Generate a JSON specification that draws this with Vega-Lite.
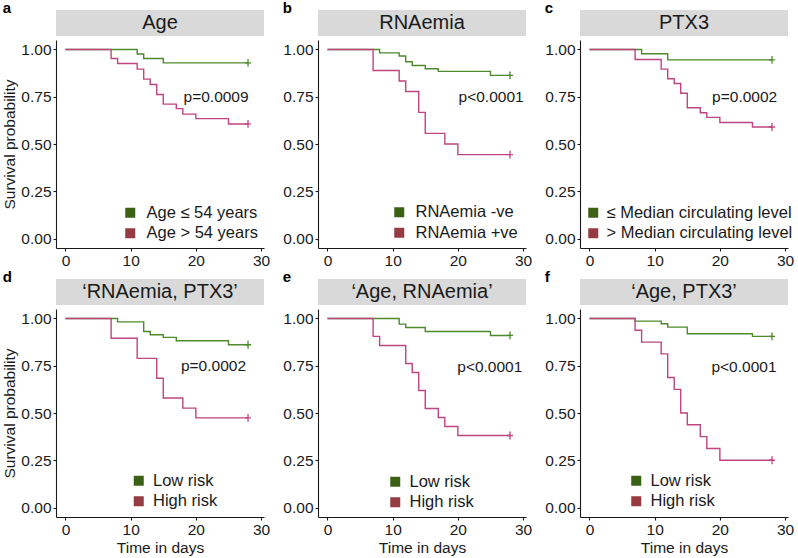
{
  "$schema": "https://vega.github.io/schema/vega-lite/v6.json",
  "padding": {"left": 2, "top": 1, "right": 0, "bottom": 0},
  "background": "white",
  "datasets": {
    "km": [
      {"p":"a","g":"Age ≤ 54 years","t":0,"s":1},{"p":"a","g":"Age ≤ 54 years","t":11,"s":0.976},{"p":"a","g":"Age ≤ 54 years","t":12,"s":0.952},{"p":"a","g":"Age ≤ 54 years","t":15,"s":0.929},{"p":"a","g":"Age ≤ 54 years","t":28,"s":0.929},
      {"p":"a","g":"Age > 54 years","t":0,"s":1},{"p":"a","g":"Age > 54 years","t":7,"s":0.952},{"p":"a","g":"Age > 54 years","t":8,"s":0.926},{"p":"a","g":"Age > 54 years","t":11,"s":0.896},{"p":"a","g":"Age > 54 years","t":12,"s":0.843},{"p":"a","g":"Age > 54 years","t":13,"s":0.815},{"p":"a","g":"Age > 54 years","t":14,"s":0.762},{"p":"a","g":"Age > 54 years","t":15,"s":0.711},{"p":"a","g":"Age > 54 years","t":17,"s":0.687},{"p":"a","g":"Age > 54 years","t":18,"s":0.658},{"p":"a","g":"Age > 54 years","t":20,"s":0.634},{"p":"a","g":"Age > 54 years","t":25,"s":0.606},{"p":"a","g":"Age > 54 years","t":28,"s":0.606},
      {"p":"b","g":"RNAemia -ve","t":0,"s":1},{"p":"b","g":"RNAemia -ve","t":8,"s":0.982},{"p":"b","g":"RNAemia -ve","t":11,"s":0.965},{"p":"b","g":"RNAemia -ve","t":12,"s":0.935},{"p":"b","g":"RNAemia -ve","t":13,"s":0.915},{"p":"b","g":"RNAemia -ve","t":15,"s":0.898},{"p":"b","g":"RNAemia -ve","t":17,"s":0.884},{"p":"b","g":"RNAemia -ve","t":25,"s":0.863},{"p":"b","g":"RNAemia -ve","t":28,"s":0.863},
      {"p":"b","g":"RNAemia +ve","t":0,"s":1},{"p":"b","g":"RNAemia +ve","t":7,"s":0.889},{"p":"b","g":"RNAemia +ve","t":11,"s":0.833},{"p":"b","g":"RNAemia +ve","t":12,"s":0.778},{"p":"b","g":"RNAemia +ve","t":14,"s":0.667},{"p":"b","g":"RNAemia +ve","t":15,"s":0.556},{"p":"b","g":"RNAemia +ve","t":18,"s":0.5},{"p":"b","g":"RNAemia +ve","t":20,"s":0.444},{"p":"b","g":"RNAemia +ve","t":28,"s":0.444},
      {"p":"c","g":"≤ Median circulating level","t":0,"s":1},{"p":"c","g":"≤ Median circulating level","t":8,"s":0.977},{"p":"c","g":"≤ Median circulating level","t":12,"s":0.945},{"p":"c","g":"≤ Median circulating level","t":28,"s":0.945},
      {"p":"c","g":"> Median circulating level","t":0,"s":1},{"p":"c","g":"> Median circulating level","t":7,"s":0.947},{"p":"c","g":"> Median circulating level","t":11,"s":0.896},{"p":"c","g":"> Median circulating level","t":12,"s":0.845},{"p":"c","g":"> Median circulating level","t":13,"s":0.82},{"p":"c","g":"> Median circulating level","t":14,"s":0.768},{"p":"c","g":"> Median circulating level","t":15,"s":0.692},{"p":"c","g":"> Median circulating level","t":17,"s":0.665},{"p":"c","g":"> Median circulating level","t":18,"s":0.641},{"p":"c","g":"> Median circulating level","t":20,"s":0.614},{"p":"c","g":"> Median circulating level","t":25,"s":0.59},{"p":"c","g":"> Median circulating level","t":28,"s":0.59},
      {"p":"d","g":"Low risk","t":0,"s":1},{"p":"d","g":"Low risk","t":8,"s":0.982},{"p":"d","g":"Low risk","t":12,"s":0.931},{"p":"d","g":"Low risk","t":13,"s":0.914},{"p":"d","g":"Low risk","t":15,"s":0.9},{"p":"d","g":"Low risk","t":17,"s":0.882},{"p":"d","g":"Low risk","t":25,"s":0.861},{"p":"d","g":"Low risk","t":28,"s":0.861},
      {"p":"d","g":"High risk","t":0,"s":1},{"p":"d","g":"High risk","t":7,"s":0.895},{"p":"d","g":"High risk","t":11,"s":0.789},{"p":"d","g":"High risk","t":14,"s":0.684},{"p":"d","g":"High risk","t":15,"s":0.579},{"p":"d","g":"High risk","t":18,"s":0.526},{"p":"d","g":"High risk","t":20,"s":0.474},{"p":"d","g":"High risk","t":28,"s":0.474},
      {"p":"e","g":"Low risk","t":0,"s":1},{"p":"e","g":"Low risk","t":11,"s":0.97},{"p":"e","g":"Low risk","t":12,"s":0.952},{"p":"e","g":"Low risk","t":15,"s":0.931},{"p":"e","g":"Low risk","t":25,"s":0.91},{"p":"e","g":"Low risk","t":28,"s":0.91},
      {"p":"e","g":"High risk","t":0,"s":1},{"p":"e","g":"High risk","t":7,"s":0.905},{"p":"e","g":"High risk","t":8,"s":0.857},{"p":"e","g":"High risk","t":12,"s":0.762},{"p":"e","g":"High risk","t":13,"s":0.714},{"p":"e","g":"High risk","t":14,"s":0.619},{"p":"e","g":"High risk","t":15,"s":0.524},{"p":"e","g":"High risk","t":17,"s":0.476},{"p":"e","g":"High risk","t":18,"s":0.429},{"p":"e","g":"High risk","t":20,"s":0.381},{"p":"e","g":"High risk","t":28,"s":0.381},
      {"p":"f","g":"Low risk","t":0,"s":1},{"p":"f","g":"Low risk","t":7,"s":0.986},{"p":"f","g":"Low risk","t":11,"s":0.972},{"p":"f","g":"Low risk","t":12,"s":0.954},{"p":"f","g":"Low risk","t":15,"s":0.919},{"p":"f","g":"Low risk","t":25,"s":0.905},{"p":"f","g":"Low risk","t":28,"s":0.905},
      {"p":"f","g":"High risk","t":0,"s":1},{"p":"f","g":"High risk","t":7,"s":0.9375},{"p":"f","g":"High risk","t":8,"s":0.875},{"p":"f","g":"High risk","t":11,"s":0.8125},{"p":"f","g":"High risk","t":12,"s":0.6875},{"p":"f","g":"High risk","t":13,"s":0.625},{"p":"f","g":"High risk","t":14,"s":0.5},{"p":"f","g":"High risk","t":15,"s":0.4375},{"p":"f","g":"High risk","t":17,"s":0.375},{"p":"f","g":"High risk","t":18,"s":0.3125},{"p":"f","g":"High risk","t":20,"s":0.25},{"p":"f","g":"High risk","t":28,"s":0.25}
    ],
    "cens": [
      {"p":"a","g":"Age ≤ 54 years","t":28,"s":0.929},{"p":"a","g":"Age > 54 years","t":28,"s":0.606},
      {"p":"b","g":"RNAemia -ve","t":28,"s":0.863},{"p":"b","g":"RNAemia +ve","t":28,"s":0.444},
      {"p":"c","g":"≤ Median circulating level","t":28,"s":0.945},{"p":"c","g":"> Median circulating level","t":28,"s":0.59},
      {"p":"d","g":"Low risk","t":28,"s":0.861},{"p":"d","g":"High risk","t":28,"s":0.474},
      {"p":"e","g":"Low risk","t":28,"s":0.91},{"p":"e","g":"High risk","t":28,"s":0.381},
      {"p":"f","g":"Low risk","t":28,"s":0.905},{"p":"f","g":"High risk","t":28,"s":0.25}
    ]
  },
  "columns": 3,
  "align": "each",
  "spacing": {"row": 1, "column": 12},
  "resolve": {"scale": {"color": "independent", "fill": "independent", "x": "independent", "y": "independent"}, "legend": {"color": "independent", "fill": "independent"}},
  "concat": [
    {
      "title": {"text": "a", "anchor": "start", "frame": "bounds", "fontSize": 15, "fontWeight": "bold", "offset": -6, "color": "#000"},
      "spacing": 4,
      "resolve": {"scale": {"color": "independent", "fill": "independent"}, "legend": {"color": "independent", "fill": "independent"}},
      "vconcat": [
        {"width": 208, "height": 26, "view": {"fill": "#d9d9d9", "stroke": null}, "data": {"values": [{"lab": "Age"}]}, "mark": {"type": "text", "fontSize": 20, "color": "#1a1a1a", "baseline": "middle"}, "encoding": {"text": {"field": "lab"}}},
        {"width": 208, "height": 208,
         "layer": [
          {"data": {"name": "km"}, "transform": [{"filter": "datum.p=='a'"}], "mark": {"type": "line", "interpolate": "step-after", "strokeWidth": 1.4},
           "encoding": {
             "x": {"field": "t", "type": "quantitative", "scale": {"domain": [-1.45, 30.45], "nice": false, "zero": false}, "axis": {"title": null, "values": [0, 10, 20, 30]}},
             "y": {"field": "s", "type": "quantitative", "scale": {"domain": [-0.05, 1.05], "nice": false, "zero": false}, "axis": {"title": "Survival probability", "values": [0, 0.25, 0.5, 0.75, 1], "format": ".2f"}},
             "color": {"field": "g", "type": "nominal", "scale": {"domain": ["Age > 54 years", "Age ≤ 54 years"], "range": ["#be4581", "#4e8a2c"]}, "legend": null}}},
          {"data": {"name": "cens"}, "transform": [{"filter": "datum.p=='a'"}], "mark": {"type": "point", "shape": "M-1,0L1,0M0,-1.3L0,1.3", "filled": false, "size": 36, "strokeWidth": 1.3, "opacity": 1},
           "encoding": {"x": {"field": "t", "type": "quantitative"}, "y": {"field": "s", "type": "quantitative"}, "color": {"field": "g", "type": "nominal", "legend": null}}},
          {"data": {"name": "cens"}, "transform": [{"filter": "datum.p=='a'"}], "mark": {"type": "square", "size": 0, "opacity": 1},
           "encoding": {"x": {"field": "t", "type": "quantitative"}, "y": {"field": "s", "type": "quantitative"},
             "fill": {"field": "g", "type": "nominal", "scale": {"domain": ["Age ≤ 54 years", "Age > 54 years"], "range": ["#3d6114", "#963b41"]}, "legend": {"title": null, "orient": "none", "legendX": 66, "legendY": 164.5, "labelOffset": 8}}}},
          {"data": {"values": [{"pv": "p=0.0009"}]}, "mark": {"type": "text", "fontSize": 15.5, "color": "#1a1a1a"}, "encoding": {"x": {"datum": 23.1}, "y": {"datum": 0.75}, "text": {"field": "pv"}}}
         ]}
      ]
    },
    {
      "title": {"text": "b", "anchor": "start", "frame": "bounds", "fontSize": 15, "fontWeight": "bold", "offset": -6, "color": "#000"},
      "spacing": 4,
      "resolve": {"scale": {"color": "independent", "fill": "independent"}, "legend": {"color": "independent", "fill": "independent"}},
      "vconcat": [
        {"width": 208, "height": 26, "view": {"fill": "#d9d9d9", "stroke": null}, "data": {"values": [{"lab": "RNAemia"}]}, "mark": {"type": "text", "fontSize": 20, "color": "#1a1a1a", "baseline": "middle"}, "encoding": {"text": {"field": "lab"}}},
        {"width": 208, "height": 208,
         "layer": [
          {"data": {"name": "km"}, "transform": [{"filter": "datum.p=='b'"}], "mark": {"type": "line", "interpolate": "step-after", "strokeWidth": 1.4},
           "encoding": {
             "x": {"field": "t", "type": "quantitative", "scale": {"domain": [-1.45, 30.45], "nice": false, "zero": false}, "axis": {"title": null, "values": [0, 10, 20, 30]}},
             "y": {"field": "s", "type": "quantitative", "scale": {"domain": [-0.05, 1.05], "nice": false, "zero": false}, "axis": {"title": null, "values": [0, 0.25, 0.5, 0.75, 1], "format": ".2f"}},
             "color": {"field": "g", "type": "nominal", "scale": {"domain": ["RNAemia +ve", "RNAemia -ve"], "range": ["#be4581", "#4e8a2c"]}, "legend": null}}},
          {"data": {"name": "cens"}, "transform": [{"filter": "datum.p=='b'"}], "mark": {"type": "point", "shape": "M-1,0L1,0M0,-1.3L0,1.3", "filled": false, "size": 36, "strokeWidth": 1.3, "opacity": 1},
           "encoding": {"x": {"field": "t", "type": "quantitative"}, "y": {"field": "s", "type": "quantitative"}, "color": {"field": "g", "type": "nominal", "legend": null}}},
          {"data": {"name": "cens"}, "transform": [{"filter": "datum.p=='b'"}], "mark": {"type": "square", "size": 0, "opacity": 1},
           "encoding": {"x": {"field": "t", "type": "quantitative"}, "y": {"field": "s", "type": "quantitative"},
             "fill": {"field": "g", "type": "nominal", "scale": {"domain": ["RNAemia -ve", "RNAemia +ve"], "range": ["#3d6114", "#963b41"]}, "legend": {"title": null, "orient": "none", "legendX": 73, "legendY": 164, "labelOffset": 8}}}},
          {"data": {"values": [{"pv": "p<0.0001"}]}, "mark": {"type": "text", "fontSize": 15.5, "color": "#1a1a1a"}, "encoding": {"x": {"datum": 25.1}, "y": {"datum": 0.75}, "text": {"field": "pv"}}}
         ]}
      ]
    },
    {
      "title": {"text": "c", "anchor": "start", "frame": "bounds", "fontSize": 15, "fontWeight": "bold", "offset": -6, "color": "#000"},
      "spacing": 4,
      "resolve": {"scale": {"color": "independent", "fill": "independent"}, "legend": {"color": "independent", "fill": "independent"}},
      "vconcat": [
        {"width": 208, "height": 26, "view": {"fill": "#d9d9d9", "stroke": null}, "data": {"values": [{"lab": "PTX3"}]}, "mark": {"type": "text", "fontSize": 20, "color": "#1a1a1a", "baseline": "middle"}, "encoding": {"text": {"field": "lab"}}},
        {"width": 208, "height": 208,
         "layer": [
          {"data": {"name": "km"}, "transform": [{"filter": "datum.p=='c'"}], "mark": {"type": "line", "interpolate": "step-after", "strokeWidth": 1.4},
           "encoding": {
             "x": {"field": "t", "type": "quantitative", "scale": {"domain": [-1.45, 30.45], "nice": false, "zero": false}, "axis": {"title": null, "values": [0, 10, 20, 30]}},
             "y": {"field": "s", "type": "quantitative", "scale": {"domain": [-0.05, 1.05], "nice": false, "zero": false}, "axis": {"title": null, "values": [0, 0.25, 0.5, 0.75, 1], "format": ".2f"}},
             "color": {"field": "g", "type": "nominal", "scale": {"domain": ["> Median circulating level", "≤ Median circulating level"], "range": ["#be4581", "#4e8a2c"]}, "legend": null}}},
          {"data": {"name": "cens"}, "transform": [{"filter": "datum.p=='c'"}], "mark": {"type": "point", "shape": "M-1,0L1,0M0,-1.3L0,1.3", "filled": false, "size": 36, "strokeWidth": 1.3, "opacity": 1},
           "encoding": {"x": {"field": "t", "type": "quantitative"}, "y": {"field": "s", "type": "quantitative"}, "color": {"field": "g", "type": "nominal", "legend": null}}},
          {"data": {"name": "cens"}, "transform": [{"filter": "datum.p=='c'"}], "mark": {"type": "square", "size": 0, "opacity": 1},
           "encoding": {"x": {"field": "t", "type": "quantitative"}, "y": {"field": "s", "type": "quantitative"},
             "fill": {"field": "g", "type": "nominal", "scale": {"domain": ["≤ Median circulating level", "> Median circulating level"], "range": ["#3d6114", "#963b41"]}, "legend": {"title": null, "orient": "none", "legendX": 5, "legendY": 164.5, "labelOffset": 5}}}},
          {"data": {"values": [{"pv": "p=0.0002"}]}, "mark": {"type": "text", "fontSize": 15.5, "color": "#1a1a1a"}, "encoding": {"x": {"datum": 23.8}, "y": {"datum": 0.75}, "text": {"field": "pv"}}}
         ]}
      ]
    },
    {
      "title": {"text": "d", "anchor": "start", "frame": "bounds", "fontSize": 15, "fontWeight": "bold", "offset": -6, "color": "#000"},
      "spacing": 4,
      "resolve": {"scale": {"color": "independent", "fill": "independent"}, "legend": {"color": "independent", "fill": "independent"}},
      "vconcat": [
        {"width": 208, "height": 26, "view": {"fill": "#d9d9d9", "stroke": null}, "data": {"values": [{"lab": "‘RNAemia, PTX3’"}]}, "mark": {"type": "text", "fontSize": 20, "color": "#1a1a1a", "baseline": "middle"}, "encoding": {"text": {"field": "lab"}}},
        {"width": 208, "height": 208,
         "layer": [
          {"data": {"name": "km"}, "transform": [{"filter": "datum.p=='d'"}], "mark": {"type": "line", "interpolate": "step-after", "strokeWidth": 1.4},
           "encoding": {
             "x": {"field": "t", "type": "quantitative", "scale": {"domain": [-1.45, 30.45], "nice": false, "zero": false}, "axis": {"title": "Time in days", "values": [0, 10, 20, 30]}},
             "y": {"field": "s", "type": "quantitative", "scale": {"domain": [-0.05, 1.05], "nice": false, "zero": false}, "axis": {"title": "Survival probability", "values": [0, 0.25, 0.5, 0.75, 1], "format": ".2f"}},
             "color": {"field": "g", "type": "nominal", "scale": {"domain": ["High risk", "Low risk"], "range": ["#be4581", "#4e8a2c"]}, "legend": null}}},
          {"data": {"name": "cens"}, "transform": [{"filter": "datum.p=='d'"}], "mark": {"type": "point", "shape": "M-1,0L1,0M0,-1.3L0,1.3", "filled": false, "size": 36, "strokeWidth": 1.3, "opacity": 1},
           "encoding": {"x": {"field": "t", "type": "quantitative"}, "y": {"field": "s", "type": "quantitative"}, "color": {"field": "g", "type": "nominal", "legend": null}}},
          {"data": {"name": "cens"}, "transform": [{"filter": "datum.p=='d'"}], "mark": {"type": "square", "size": 0, "opacity": 1},
           "encoding": {"x": {"field": "t", "type": "quantitative"}, "y": {"field": "s", "type": "quantitative"},
             "fill": {"field": "g", "type": "nominal", "scale": {"domain": ["Low risk", "High risk"], "range": ["#3d6114", "#963b41"]}, "legend": {"title": null, "orient": "none", "legendX": 74.5, "legendY": 163.5, "labelOffset": 6}}}},
          {"data": {"values": [{"pv": "p=0.0002"}]}, "mark": {"type": "text", "fontSize": 15.5, "color": "#1a1a1a"}, "encoding": {"x": {"datum": 22.7}, "y": {"datum": 0.75}, "text": {"field": "pv"}}}
         ]}
      ]
    },
    {
      "title": {"text": "e", "anchor": "start", "frame": "bounds", "fontSize": 15, "fontWeight": "bold", "offset": -6, "color": "#000"},
      "spacing": 4,
      "resolve": {"scale": {"color": "independent", "fill": "independent"}, "legend": {"color": "independent", "fill": "independent"}},
      "vconcat": [
        {"width": 208, "height": 26, "view": {"fill": "#d9d9d9", "stroke": null}, "data": {"values": [{"lab": "‘Age, RNAemia’"}]}, "mark": {"type": "text", "fontSize": 20, "color": "#1a1a1a", "baseline": "middle"}, "encoding": {"text": {"field": "lab"}}},
        {"width": 208, "height": 208,
         "layer": [
          {"data": {"name": "km"}, "transform": [{"filter": "datum.p=='e'"}], "mark": {"type": "line", "interpolate": "step-after", "strokeWidth": 1.4},
           "encoding": {
             "x": {"field": "t", "type": "quantitative", "scale": {"domain": [-1.45, 30.45], "nice": false, "zero": false}, "axis": {"title": "Time in days", "values": [0, 10, 20, 30]}},
             "y": {"field": "s", "type": "quantitative", "scale": {"domain": [-0.05, 1.05], "nice": false, "zero": false}, "axis": {"title": null, "values": [0, 0.25, 0.5, 0.75, 1], "format": ".2f"}},
             "color": {"field": "g", "type": "nominal", "scale": {"domain": ["High risk", "Low risk"], "range": ["#be4581", "#4e8a2c"]}, "legend": null}}},
          {"data": {"name": "cens"}, "transform": [{"filter": "datum.p=='e'"}], "mark": {"type": "point", "shape": "M-1,0L1,0M0,-1.3L0,1.3", "filled": false, "size": 36, "strokeWidth": 1.3, "opacity": 1},
           "encoding": {"x": {"field": "t", "type": "quantitative"}, "y": {"field": "s", "type": "quantitative"}, "color": {"field": "g", "type": "nominal", "legend": null}}},
          {"data": {"name": "cens"}, "transform": [{"filter": "datum.p=='e'"}], "mark": {"type": "square", "size": 0, "opacity": 1},
           "encoding": {"x": {"field": "t", "type": "quantitative"}, "y": {"field": "s", "type": "quantitative"},
             "fill": {"field": "g", "type": "nominal", "scale": {"domain": ["Low risk", "High risk"], "range": ["#3d6114", "#963b41"]}, "legend": {"title": null, "orient": "none", "legendX": 69, "legendY": 164.5, "labelOffset": 6}}}},
          {"data": {"values": [{"pv": "p<0.0001"}]}, "mark": {"type": "text", "fontSize": 15.5, "color": "#1a1a1a"}, "encoding": {"x": {"datum": 24.9}, "y": {"datum": 0.745}, "text": {"field": "pv"}}}
         ]}
      ]
    },
    {
      "title": {"text": "f", "anchor": "start", "frame": "bounds", "fontSize": 15, "fontWeight": "bold", "offset": -6, "color": "#000"},
      "spacing": 4,
      "resolve": {"scale": {"color": "independent", "fill": "independent"}, "legend": {"color": "independent", "fill": "independent"}},
      "vconcat": [
        {"width": 208, "height": 26, "view": {"fill": "#d9d9d9", "stroke": null}, "data": {"values": [{"lab": "‘Age, PTX3’"}]}, "mark": {"type": "text", "fontSize": 20, "color": "#1a1a1a", "baseline": "middle"}, "encoding": {"text": {"field": "lab"}}},
        {"width": 208, "height": 208,
         "layer": [
          {"data": {"name": "km"}, "transform": [{"filter": "datum.p=='f'"}], "mark": {"type": "line", "interpolate": "step-after", "strokeWidth": 1.4},
           "encoding": {
             "x": {"field": "t", "type": "quantitative", "scale": {"domain": [-1.45, 30.45], "nice": false, "zero": false}, "axis": {"title": "Time in days", "values": [0, 10, 20, 30]}},
             "y": {"field": "s", "type": "quantitative", "scale": {"domain": [-0.05, 1.05], "nice": false, "zero": false}, "axis": {"title": null, "values": [0, 0.25, 0.5, 0.75, 1], "format": ".2f"}},
             "color": {"field": "g", "type": "nominal", "scale": {"domain": ["High risk", "Low risk"], "range": ["#be4581", "#4e8a2c"]}, "legend": null}}},
          {"data": {"name": "cens"}, "transform": [{"filter": "datum.p=='f'"}], "mark": {"type": "point", "shape": "M-1,0L1,0M0,-1.3L0,1.3", "filled": false, "size": 36, "strokeWidth": 1.3, "opacity": 1},
           "encoding": {"x": {"field": "t", "type": "quantitative"}, "y": {"field": "s", "type": "quantitative"}, "color": {"field": "g", "type": "nominal", "legend": null}}},
          {"data": {"name": "cens"}, "transform": [{"filter": "datum.p=='f'"}], "mark": {"type": "square", "size": 0, "opacity": 1},
           "encoding": {"x": {"field": "t", "type": "quantitative"}, "y": {"field": "s", "type": "quantitative"},
             "fill": {"field": "g", "type": "nominal", "scale": {"domain": ["Low risk", "High risk"], "range": ["#3d6114", "#963b41"]}, "legend": {"title": null, "orient": "none", "legendX": 48, "legendY": 163.5, "labelOffset": 6}}}},
          {"data": {"values": [{"pv": "p<0.0001"}]}, "mark": {"type": "text", "fontSize": 15.5, "color": "#1a1a1a"}, "encoding": {"x": {"datum": 23.7}, "y": {"datum": 0.745}, "text": {"field": "pv"}}}
         ]}
      ]
    }
  ],
  "config": {
    "font": "Liberation Sans",
    "view": {"stroke": null},
    "title": {"font": "Liberation Sans"},
    "text": {"font": "Liberation Sans"},
    "axis": {"grid": false, "domainColor": "#1a1a1a", "domainWidth": 1.1, "tickColor": "#1a1a1a", "tickSize": 3, "tickWidth": 1.1, "labelFont": "Liberation Sans", "labelFontSize": 15.5, "labelColor": "#1a1a1a", "labelPadding": 2, "labelFlush": false, "labelOverlap": false, "titleFont": "Liberation Sans", "titleFontSize": 15.5, "titleFontWeight": "normal", "titleColor": "#1a1a1a", "titlePadding": 3},
    "legend": {"symbolType": "square", "symbolSize": 100, "symbolOpacity": 1, "symbolStrokeWidth": 0, "labelFont": "Liberation Sans", "labelFontSize": 16.5, "labelColor": "#1a1a1a", "rowPadding": 3.5, "padding": 0, "labelLimit": 400}
  }
}
